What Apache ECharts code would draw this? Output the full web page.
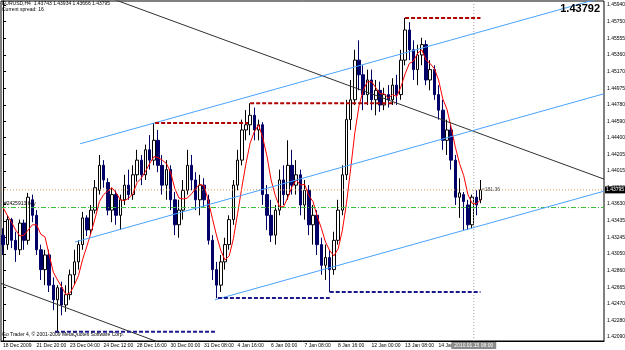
<!DOCTYPE html>
<html>
<head>
<meta charset="utf-8">
<script src="https://cdn.jsdelivr.net/npm/echarts@6/dist/echarts.min.js"></script>
<style>
html, body { margin: 0; padding: 0; background: #fff; }
#chart { width: 625px; height: 350px; }
</style>
</head>
<body>
<div id="chart"></div>
<script>
// EURUSD H4 bars, one row per bar: [open, close, low, high]
const candles = [
  [1.4327,1.4316,1.4304,1.4335],[1.4316,1.4345,1.4310,1.4350],[1.4345,1.4321,1.4312,1.4347],[1.4321,1.4310,1.4296,1.4331],
  [1.4310,1.4341,1.4304,1.4345],[1.4341,1.4321,1.4310,1.4345],[1.4321,1.4371,1.4316,1.4376],[1.4368,1.4350,1.4342,1.4374],
  [1.4350,1.4310,1.4304,1.4356],[1.4310,1.4287,1.4275,1.4316],[1.4287,1.4304,1.4269,1.4310],[1.4304,1.4269,1.4261,1.4310],
  [1.4269,1.4252,1.4240,1.4278],[1.4252,1.4266,1.4215,1.4269],[1.4266,1.4246,1.4234,1.4273],[1.4246,1.4258,1.4238,1.4269],
  [1.4258,1.4281,1.4252,1.4287],[1.4281,1.4296,1.4269,1.4310],[1.4296,1.4316,1.4287,1.4321],[1.4316,1.4347,1.4310,1.4354],
  [1.4347,1.4333,1.4326,1.4350],[1.4333,1.4356,1.4327,1.4362],[1.4356,1.4382,1.4352,1.4391],[1.4379,1.4408,1.4374,1.4420],
  [1.4408,1.4391,1.4382,1.4414],[1.4388,1.4356,1.4350,1.4393],[1.4356,1.4374,1.4342,1.4382],[1.4374,1.4350,1.4339,1.4379],
  [1.4350,1.4368,1.4333,1.4374],[1.4368,1.4385,1.4362,1.4397],[1.4385,1.4374,1.4368,1.4403],[1.4374,1.4397,1.4368,1.4408],
  [1.4397,1.4414,1.4389,1.4426],[1.4414,1.4397,1.4385,1.4420],[1.4397,1.4426,1.4391,1.4432],[1.4426,1.4414,1.4403,1.4443],
  [1.4414,1.4437,1.4408,1.4457],[1.4437,1.4408,1.4400,1.4449],[1.4408,1.4385,1.4374,1.4420],[1.4385,1.4403,1.4368,1.4414],
  [1.4403,1.4368,1.4356,1.4408],[1.4368,1.4339,1.4327,1.4377],[1.4339,1.4356,1.4324,1.4368],[1.4356,1.4379,1.4345,1.4391],
  [1.4379,1.4408,1.4374,1.4426],[1.4408,1.4391,1.4379,1.4420],[1.4391,1.4368,1.4356,1.4400],[1.4368,1.4385,1.4350,1.4397],
  [1.4385,1.4368,1.4359,1.4393],[1.4368,1.4321,1.4316,1.4374],[1.4321,1.4287,1.4275,1.4327],[1.4287,1.4269,1.4254,1.4296],
  [1.4269,1.4296,1.4261,1.4304],[1.4296,1.4316,1.4287,1.4324],[1.4316,1.4345,1.4310,1.4350],[1.4345,1.4385,1.4339,1.4391],
  [1.4385,1.4414,1.4379,1.4426],[1.4414,1.4449,1.4408,1.4461],[1.4449,1.4455,1.4437,1.4472],[1.4455,1.4466,1.4443,1.4480],
  [1.4466,1.4449,1.4437,1.4475],[1.4449,1.4455,1.4437,1.4461],[1.4455,1.4374,1.4362,1.4458],[1.4374,1.4350,1.4333,1.4385],
  [1.4350,1.4327,1.4319,1.4368],[1.4327,1.4356,1.4316,1.4362],[1.4356,1.4391,1.4350,1.4403],[1.4391,1.4374,1.4362,1.4408],
  [1.4374,1.4408,1.4368,1.4437],[1.4408,1.4385,1.4374,1.4426],[1.4385,1.4397,1.4374,1.4414],[1.4397,1.4362,1.4350,1.4403],
  [1.4362,1.4379,1.4345,1.4391],[1.4379,1.4339,1.4327,1.4385],[1.4339,1.4350,1.4316,1.4362],[1.4350,1.4316,1.4304,1.4356],
  [1.4316,1.4292,1.4281,1.4324],[1.4292,1.4301,1.4275,1.4316],[1.4301,1.4287,1.4261,1.4310],[1.4287,1.4321,1.4281,1.4331],
  [1.4321,1.4356,1.4316,1.4368],[1.4356,1.4397,1.4350,1.4408],[1.4397,1.4461,1.4391,1.4484],[1.4461,1.4484,1.4449,1.4507],
  [1.4484,1.4530,1.4478,1.4542],[1.4530,1.4513,1.4495,1.4553],[1.4513,1.4490,1.4472,1.4524],[1.4490,1.4507,1.4478,1.4519],
  [1.4507,1.4484,1.4472,1.4519],[1.4484,1.4495,1.4466,1.4507],[1.4495,1.4478,1.4470,1.4505],[1.4478,1.4490,1.4472,1.4498],
  [1.4490,1.4484,1.4475,1.4501],[1.4484,1.4501,1.4478,1.4509],[1.4501,1.4490,1.4478,1.4513],[1.4490,1.4530,1.4484,1.4542],
  [1.4530,1.4565,1.4524,1.4579],[1.4565,1.4542,1.4530,1.4574],[1.4542,1.4519,1.4507,1.4553],[1.4519,1.4536,1.4501,1.4548],
  [1.4536,1.4548,1.4524,1.4556],[1.4548,1.4507,1.4501,1.4553],[1.4507,1.4519,1.4495,1.4530],[1.4519,1.4490,1.4484,1.4524],
  [1.4490,1.4472,1.4461,1.4501],[1.4472,1.4437,1.4426,1.4484],[1.4437,1.4449,1.4420,1.4461],[1.4449,1.4414,1.4403,1.4455],
  [1.4414,1.4371,1.4362,1.4420],[1.4371,1.4376,1.4347,1.4393],[1.4374,1.4366,1.4333,1.4377],[1.4362,1.4339,1.4333,1.4368],
  [1.4339,1.4371,1.4335,1.4374],[1.4371,1.4362,1.4350,1.4379],[1.4368,1.43795,1.4364,1.4391]
];

// red moving average
const ma = [
  1.4359,1.4350,1.4342,1.4333,1.4326,1.4327,1.4333,1.4339,1.4339,1.4328,1.4325,1.4304,1.4284,1.4275,1.4267,1.4258,
  1.4260,1.4269,1.4280,1.4299,1.4314,1.4330,1.4347,1.4366,1.4374,1.4378,1.4382,1.4376,1.4368,1.4367,1.4370,1.4375,
  1.4388,1.4393,1.4401,1.4410,1.4418,1.4417,1.4414,1.4410,1.4400,1.4381,1.4370,1.4369,1.4370,1.4375,1.4381,1.4386,
  1.4384,1.4367,1.4346,1.4326,1.4309,1.4298,1.4303,1.4323,1.4352,1.4382,1.4410,1.4434,1.4447,1.4455,1.4440,1.4419,
  1.4391,1.4373,1.4360,1.4360,1.4371,1.4383,1.4391,1.4385,1.4386,1.4373,1.4366,1.4349,1.4335,1.4319,1.4309,1.4303,
  1.4311,1.4332,1.4364,1.4404,1.4446,1.4477,1.4495,1.4505,1.4505,1.4498,1.4491,1.4491,1.4486,1.4490,1.4488,1.4499,
  1.4514,1.4526,1.4529,1.4538,1.4542,1.4530,1.4526,1.4520,1.4507,1.4485,1.4473,1.4452,1.4429,1.4410,1.4396,1.4374,
  1.4364,1.4363,1.4368
];

// one time label every 8 bars
const timeLabels = ['18 Dec 2009', '21 Dec 20:00', '23 Dec 04:00', '24 Dec 12:00', '28 Dec 16:00', '30 Dec 00:00',
  '31 Dec 08:00', '4 Jan 16:00', '6 Jan 00:00', '7 Jan 08:00', '8 Jan 16:00', '12 Jan 00:00', '13 Jan 08:00', '14 Jan 16:00'];
const priceTicks = [1.45940, 1.45750, 1.45555, 1.45360, 1.45170, 1.44975, 1.44780, 1.44590, 1.44400, 1.44205, 1.44015,
  1.43820, 1.43630, 1.43435, 1.43245, 1.43050, 1.42860, 1.42665, 1.42470, 1.42280, 1.42090];

const barSlots = 144;           // visible bar positions incl. chart shift
const priceMin = 1.42042, priceMax = 1.45986;
// trend lines, [bar, price] pairs
const blackLines = [[[20, 1.4612], [143.5, 1.4392]], [[-0.5, 1.4271], [37, 1.4203]]];
const blueLines = [[[18.4, 1.4433], [143.5, 1.4603]], [[17.2, 1.4319], [143.5, 1.4491]], [[50.6, 1.4252], [143.5, 1.4378]]];
// zigzag levels: [fromBar, toBar, price]
const resistLevels = [[36.3, 58.5, 1.4457], [59, 93.5, 1.4480], [96, 114, 1.4579]];
const supportLevels = [[12.4, 50.6, 1.4215], [51.3, 78, 1.4254], [78, 114, 1.4261]];
const bidPrice = 1.43795;
const buyPrice = 1.4359;
const cursorBar = 112.4;

const FONT = 'Liberation Sans';
const chart = echarts.init(document.getElementById('chart'));

function segSeries(pts, color, width, type, z) {
  return {
    type: 'line', xAxisIndex: 1, yAxisIndex: 0, data: pts, symbol: 'none', silent: true,
    itemStyle: { color: color },
    lineStyle: { color: color, width: width, type: type || 'solid' }, z: z || 4
  };
}
function tag(coord, text, pos, style) {
  return { coord: coord, label: Object.assign({ show: true, position: pos, distance: 1, formatter: text,
    fontSize: 5, fontFamily: FONT, color: '#000' }, style || {}) };
}

const overlay = [];
// order line, bid line, time cursor
const buyLine = segSeries([[-0.5, buyPrice], [barSlots - 0.5, buyPrice]], '#2fbf2f', 1, [5, 2, 1, 2], 3);
const bidLine = segSeries([[-0.5, bidPrice], [barSlots - 0.5, bidPrice]], '#d99a50', 1, [1, 2], 3);
const cursorLine = segSeries([[cursorBar, priceMin], [cursorBar, priceMax]], '#a0a0a0', 1, [1, 2], 3);
bidLine.markPoint = {
  symbol: 'circle', symbolSize: 0, silent: true,
  data: [
    tag([-0.5, buyPrice], '#2425913 buy', 'insideTopLeft', { offset: [2, -7] }),
    tag([barSlots - 0.5, bidPrice], '1.43795', 'right', { color: '#fff', backgroundColor: '#000', padding: [1, 1], distance: 1 }),
    tag([114.3, bidPrice], '<181.36', 'right', { color: '#444', distance: 0 }),
    tag([cursorBar, priceMin], '2010.01.15 08:00', 'bottom', { color: '#fff', backgroundColor: '#8a8a8a', padding: [1, 3], distance: 1 })
  ]
};
overlay.push(buyLine, bidLine, cursorLine);
blackLines.forEach(l => overlay.push(segSeries(l, '#303030', 1)));
blueLines.forEach(l => overlay.push(segSeries(l, '#4aa3ff', 1)));
resistLevels.forEach(l => overlay.push(segSeries([[l[0], l[2]], [l[1], l[2]]], '#b00000', 2, [4, 2])));
supportLevels.forEach(l => overlay.push(segSeries([[l[0], l[2]], [l[1], l[2]]], '#1a1a8c', 2, [4, 2])));

const cats = [];
for (let i = 0; i < barSlots; i++) cats.push(String(i));
const showTime = i => i % 8 === 0 && i / 8 < timeLabels.length;

chart.setOption({
  animation: false,
  backgroundColor: '#fff',
  title: [
    { text: 'EURUSD,H4  1.43743 1.43934 1.43666 1.43795', left: 2, top: 1, padding: 0,
      textStyle: { fontSize: 5, fontWeight: 'normal', fontFamily: FONT, color: '#000' } },
    { text: 'Current spread: 16', left: 2, top: 7, padding: 0,
      textStyle: { fontSize: 5, fontWeight: 'normal', fontFamily: FONT, color: '#000' } },
    { text: '1.43792', right: 25, top: 3, padding: 0,
      textStyle: { fontSize: 11, fontWeight: 'bold', fontFamily: FONT, color: '#000' } },
    { text: 'Go Trader 4, \u00a9 2001-2009 MetaQuotes Software Corp.', left: 2, top: 332, padding: 0,
      textStyle: { fontSize: 5, fontWeight: 'normal', fontFamily: FONT, color: '#000' } }
  ],
  grid: { left: 1, right: 21, top: 1, bottom: 9, containLabel: false, outerBoundsMode: 'none',
    show: true, borderColor: '#000', borderWidth: 1, backgroundColor: 'transparent' },
  xAxis: [
    { type: 'category', data: cats, boundaryGap: true,
      axisLine: { lineStyle: { color: '#000', width: 1 } },
      axisTick: { alignWithLabel: true, interval: showTime, length: 3, lineStyle: { color: '#000' } },
      axisLabel: { interval: showTime, align: 'left', margin: 2, fontSize: 5, fontFamily: FONT, color: '#000',
        formatter: (v, i) => timeLabels[i / 8] || '' },
      splitLine: { show: false } },
    { type: 'value', min: -0.5, max: barSlots - 0.5, show: false }
  ],
  yAxis: [{
    type: 'value', position: 'right', min: priceMin, max: priceMax, scale: true,
    axisLine: { show: true, lineStyle: { color: '#000', width: 1 } },
    axisTick: { show: true, length: 3, customValues: priceTicks, lineStyle: { color: '#000' } },
    axisLabel: { customValues: priceTicks, margin: 3, fontSize: 5, fontFamily: FONT, color: '#000',
      formatter: v => v.toFixed(5) },
    splitLine: { show: false }
  }],
  series: [
    { type: 'candlestick', xAxisIndex: 0, yAxisIndex: 0, data: candles, barWidth: 3, z: 2,
      itemStyle: { color: '#ffffff', color0: '#000066', borderColor: '#000000', borderColor0: '#000066', borderWidth: 1 } },
    { type: 'line', xAxisIndex: 0, yAxisIndex: 0, data: ma, symbol: 'none', z: 3,
      lineStyle: { color: '#ff0000', width: 1 } }
  ].concat(overlay)
});
</script>
</body>
</html>
